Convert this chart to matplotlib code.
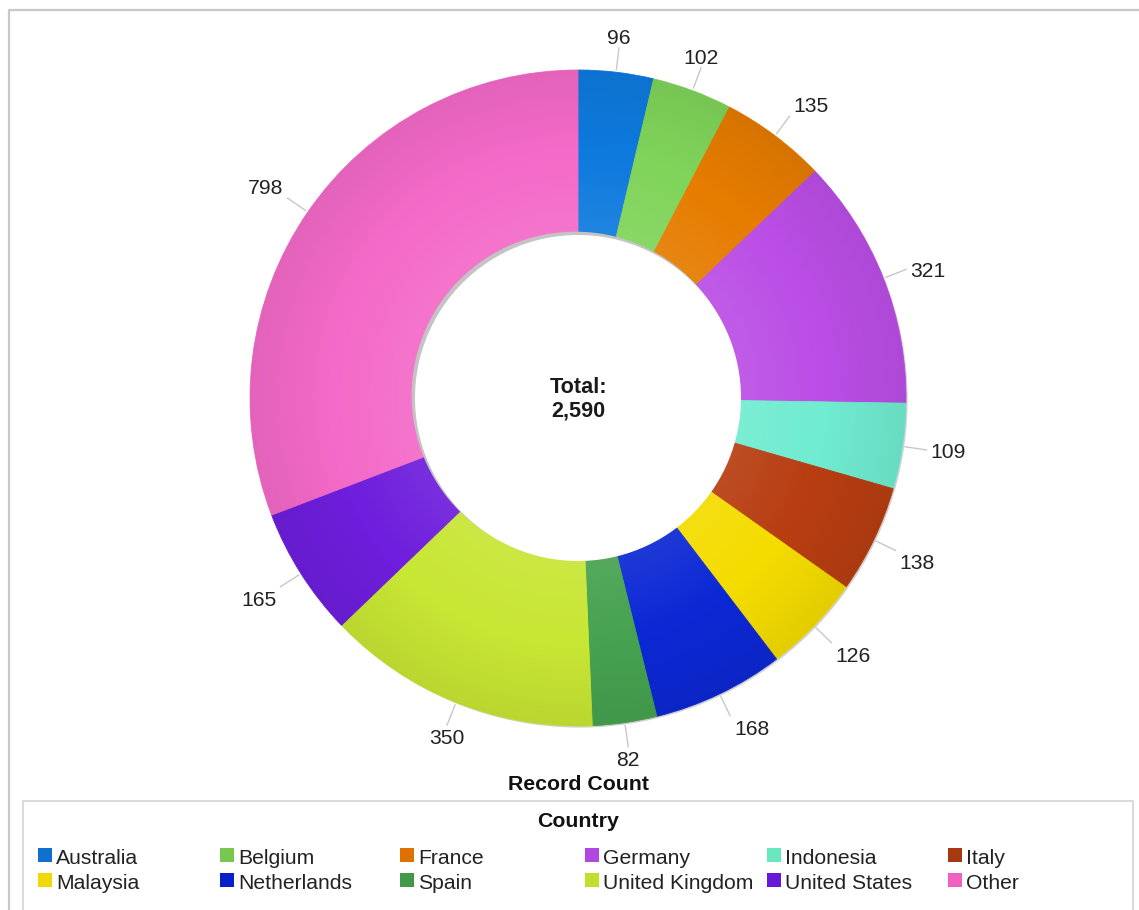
import numpy as np
import matplotlib
matplotlib.use("Agg")
import matplotlib.pyplot as plt
from matplotlib.patches import Circle, Rectangle, Wedge

# ---- data ----
countries = ["Australia", "Belgium", "France", "Germany", "Indonesia", "Italy",
             "Malaysia", "Netherlands", "Spain", "United Kingdom", "United States", "Other"]
counts = [96, 102, 135, 321, 109, 138, 126, 168, 82, 350, 165, 798]
colors = ["#0e7ade", "#80d45a", "#e67c00", "#bb4ee6", "#70ecd0", "#b83e12",
          "#f4dc00", "#0c28d4", "#46a250", "#c8e634", "#6e1edc", "#f46ac8"]
legend_colors = ["#1070d0", "#78c850", "#e07000", "#b048e0", "#68e8c0", "#a83810",
                 "#f0d800", "#0820c8", "#409a48", "#c0e030", "#6818d8", "#f060c0"]
axis_title = "Record Count"
legend_title = "Country"

W, H = 1139, 910
plt.rcParams['font.family'] = ['Liberation Sans', 'DejaVu Sans']
fig = plt.figure(figsize=(W / 100, H / 100), dpi=100)
ax = fig.add_axes([0, 0, 1, 1])

def sy(py):
    return H - py

cx, cy = 578, sy(398)
r_out, r_in = 328, 163

# outer soft shadow
ax.add_patch(Circle((cx + 1.6, cy - 1.6), r_out, color="#d0d0d0", zorder=1, lw=0))

wedges, _ = ax.pie(counts, colors=colors, startangle=90, counterclock=False,
                   radius=r_out, center=(cx, cy), frame=True,
                   wedgeprops=dict(width=r_out - r_in, linewidth=0.6))
for w, c in zip(wedges, colors):
    w.set_edgecolor(c)
    w.set_zorder(2)

# radial shading overlay (slightly lighter inside, darker outside)
n = 600
xs = np.linspace(cx - r_out, cx + r_out, n)
ys = np.linspace(cy - r_out, cy + r_out, n)
X, Y = np.meshgrid(xs, ys)
R = np.hypot(X - cx, Y - cy)
t = np.clip((R - r_in) / (r_out - r_in), 0, 1)
rgba = np.zeros((n, n, 4))
inner = t < 0.5
rgba[inner, :3] = 1.0
rgba[inner, 3] = 0.08 * (1 - 2 * t[inner])
rgba[~inner, :3] = 0.0
rgba[~inner, 3] = 0.07 * (2 * t[~inner] - 1)
ring = Wedge((cx, cy), r_out, 0, 360, width=r_out - r_in, transform=ax.transData)
im = ax.imshow(rgba, extent=(cx - r_out, cx + r_out, cy - r_out, cy + r_out),
               origin="lower", zorder=3, interpolation="bilinear")
im.set_clip_path(ring)

# inner shadow + hole
ax.add_patch(Circle((cx - 2.5, cy + 2.5), r_in + 0.8, color="#c4c4c4", zorder=4, lw=0))
ax.add_patch(Circle((cx, cy), r_in, color="white", zorder=5, lw=0))

ax.text(cx, sy(393), "Total:", ha="center", va="baseline", fontsize=15.6,
        fontweight="bold", color="#1a1a1a", zorder=6)
ax.text(cx, sy(417), "2,590", ha="center", va="baseline", fontsize=15.6,
        fontweight="bold", color="#1a1a1a", zorder=6)

# slice value labels with leader lines
lab_fs = 15.2
digit_h = 0.716 * lab_fs * 100 / 72
r_end = 353
gap = 3.5
for w, v in zip(wedges, counts):
    th = np.deg2rad((w.theta1 + w.theta2) / 2)
    c, s = np.cos(th), np.sin(th)
    ex, ey = cx + r_end * c, cy + r_end * s
    ax.plot([cx + (r_out + 2) * c, ex], [cy + (r_out + 2) * s, ey],
            color="#c8c8c8", lw=1.0, zorder=6, solid_capstyle="butt")
    if c > 0.4:
        ha, tx = "left", ex + gap
    elif c < -0.4:
        ha, tx = "right", ex - gap
    else:
        ha, tx = "center", ex
    if s > 0.4:
        base = ey + gap
    elif s < -0.4:
        base = ey - gap - digit_h
    else:
        base = ey - digit_h / 2
    ax.text(tx, base, str(v), ha=ha, va="baseline", fontsize=lab_fs,
            color="#222222", zorder=7)

# titles
ax.text(cx, sy(790), axis_title, ha="center", va="baseline", fontsize=15.3,
        fontweight="bold", color="#111111")
ax.text(cx, sy(827), legend_title, ha="center", va="baseline", fontsize=15.3,
        fontweight="bold", color="#111111")

# borders
ax.plot([9, 9, W], [0, sy(10), sy(10)], color="#c8c8c8", lw=1.6, zorder=1)
ax.add_patch(Rectangle((23, -5), 1133 - 23, sy(801) + 5, fill=False,
                       edgecolor="#d4d4d4", lw=1.2, zorder=1))

# legend
col_x = [38, 220, 400, 585, 767, 948]
row_base = [864, 889]
for i, (name, col) in enumerate(zip(countries, legend_colors)):
    r, k = divmod(i, 6)
    x0 = col_x[k]
    b = row_base[r]
    ax.add_patch(Rectangle((x0, sy(b - 2)), 14, 14, facecolor=col, edgecolor="none", zorder=3))
    ax.text(x0 + 18, sy(b), name, ha="left", va="baseline", fontsize=15.2, color="#222222")

ax.set_xlim(0, W)
ax.set_ylim(0, H)
ax.set_aspect("auto")
ax.axis("off")
fig.savefig("out.png", dpi=100)
